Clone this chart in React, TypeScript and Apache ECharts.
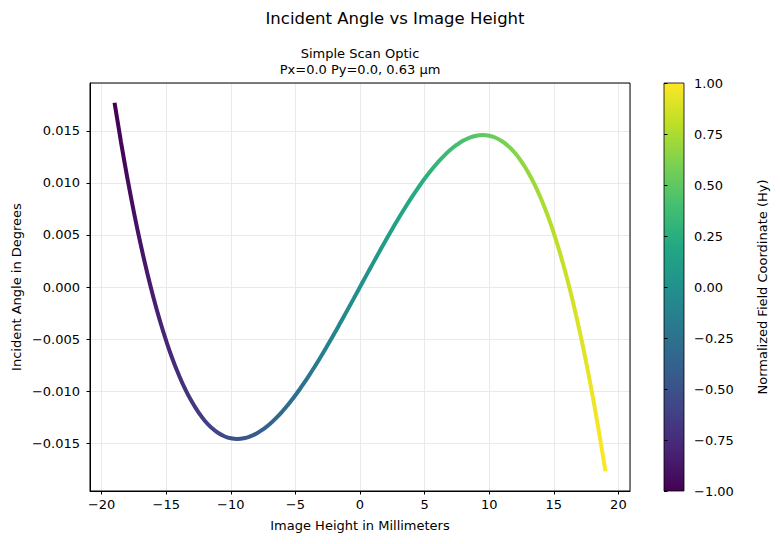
import React, { useEffect, useRef } from "react";
import * as echarts from "echarts";

// Image height samples (mm), every 0.5 mm across the field
const imageHeight: number[] = [
  -19, -18.5, -18, -17.5, -17, -16.5, -16, -15.5, -15, -14.5, -14, -13.5, -13, -12.5,
  -12, -11.5, -11, -10.5, -10, -9.5, -9, -8.5, -8, -7.5, -7, -6.5, -6, -5.5, -5, -4.5,
  -4, -3.5, -3, -2.5, -2, -1.5, -1, -0.5, 0, 0.5, 1, 1.5, 2, 2.5, 3, 3.5, 4, 4.5, 5,
  5.5, 6, 6.5, 7, 7.5, 8, 8.5, 9, 9.5, 10, 10.5, 11, 11.5, 12, 12.5, 13, 13.5, 14,
  14.5, 15, 15.5, 16, 16.5, 17, 17.5, 18, 18.5, 19,
];

// Incident angle (degrees) at each image height
const incidentAngle: number[] = [
  0.0177, 0.01392, 0.01042, 0.00718, 0.00422, 0.00151, -0.00095, -0.00318, -0.00518,
  -0.00696, -0.00852, -0.00989, -0.01106, -0.01205, -0.01287, -0.01351, -0.014, -0.01434,
  -0.01454, -0.0146, -0.01454, -0.01436, -0.01407, -0.01367, -0.01318, -0.0126, -0.01194,
  -0.0112, -0.0104, -0.00953, -0.00861, -0.00764, -0.00663, -0.00558, -0.0045, -0.00339,
  -0.00227, -0.00114, 0.0,
  0.00114, 0.00227, 0.00339, 0.0045, 0.00558, 0.00663, 0.00764, 0.00861, 0.00953, 0.0104,
  0.0112, 0.01194, 0.0126, 0.01318, 0.01367, 0.01407, 0.01436, 0.01454, 0.0146, 0.01454,
  0.01434, 0.014, 0.01351, 0.01287, 0.01205, 0.01106, 0.00989, 0.00852, 0.00696, 0.00518,
  0.00318, 0.00095, -0.00151, -0.00422, -0.00718, -0.01042, -0.01392, -0.0177,
];

// Field extent used to normalise Hy
const maxField = 19;

// Colour-bar tick values
const colorbarTicks: number[] = [-1, -0.75, -0.5, -0.25, 0, 0.25, 0.5, 0.75, 1];

// Viridis colour stops
const viridis: string[] = [
  "#440154", "#482475", "#414487", "#355f8d", "#2a788e", "#21918c",
  "#22a884", "#44bf70", "#7ad151", "#bddf26", "#fde725",
];

const FONT = "DejaVu Sans";
const fmtMinus = (s: string) => s.replace("-", "\u2212");

export default function App() {
  const ref = useRef<HTMLDivElement>(null);

  useEffect(() => {
    document.body.style.margin = "0";
    if (!ref.current) return;
    const chart = echarts.init(ref.current, undefined, { renderer: "svg" });

    const points = imageHeight.map((x, i) => [x, incidentAngle[i]]);
    const stops = viridis.map((c, i) => ({ offset: i / (viridis.length - 1), color: c }));

    chart.setOption({
      animation: false,
      backgroundColor: "#fff",
      textStyle: { fontFamily: FONT },
      grid: [
        {
          left: 90, top: 83, right: 151, bottom: 53,
          show: true, borderColor: "#000", borderWidth: 1,
          backgroundColor: "transparent", z: 3,
        },
        {
          left: 664, top: 83, right: 97, bottom: 53,
          show: true, borderColor: "#000", borderWidth: 0.8,
          backgroundColor: new echarts.graphic.LinearGradient(0, 1, 0, 0, stops),
        },
      ],
      xAxis: [
        {
          type: "value", gridIndex: 0, min: -20.9, max: 20.9, splitNumber: 8,
          axisLine: { show: true, onZero: false, lineStyle: { color: "#000", width: 1 } },
          axisTick: { show: true, length: 3.5, lineStyle: { color: "#000" } },
          axisLabel: {
            showMinLabel: false, showMaxLabel: false, color: "#000", fontSize: 13,
            fontFamily: FONT, margin: 7, formatter: (v: number) => fmtMinus(String(v)),
          },
          splitLine: { show: true, lineStyle: { color: "#e5e5e5", width: 0.8 } },
        },
        { type: "value", gridIndex: 1, show: false, min: 0, max: 1 },
      ],
      yAxis: [
        {
          type: "value", gridIndex: 0, min: -0.0196, max: 0.0196, splitNumber: 8,
          axisLine: { show: true, onZero: false, lineStyle: { color: "#000", width: 1 } },
          axisTick: { show: true, length: 3.5, lineStyle: { color: "#000" } },
          axisLabel: {
            showMinLabel: false, showMaxLabel: false, color: "#000", fontSize: 13,
            fontFamily: FONT, margin: 10,
            formatter: (v: number) => fmtMinus((Math.abs(v) < 1e-9 ? 0 : v).toFixed(3)),
          },
          splitLine: { show: true, lineStyle: { color: "#e5e5e5", width: 0.8 } },
        },
        {
          type: "value", gridIndex: 1, position: "right",
          min: colorbarTicks[0], max: colorbarTicks[colorbarTicks.length - 1], interval: 0.25,
          axisLine: { show: false },
          axisTick: { show: true, length: 3.5, lineStyle: { color: "#000" } },
          axisLabel: {
            color: "#000", fontSize: 13, fontFamily: FONT, margin: 10,
            formatter: (v: number) => fmtMinus((Math.abs(v) < 1e-9 ? 0 : v).toFixed(2)),
          },
          splitLine: { show: false },
        },
      ],
      visualMap: {
        type: "continuous", show: false, seriesIndex: 0, dimension: 0,
        min: -maxField, max: maxField, inRange: { color: viridis },
      },
      series: [
        {
          type: "line", xAxisIndex: 0, yAxisIndex: 0, data: points,
          smooth: true, showSymbol: false, symbol: "none",
          lineStyle: { width: 4, cap: "butt" }, z: 2,
        },
        { type: "scatter", xAxisIndex: 1, yAxisIndex: 1, data: [] },
      ],
      graphic: [
        {
          type: "text", x: 395, y: 18,
          style: {
            text: "Incident Angle vs Image Height", fill: "#000",
            font: `16.5px "${FONT}"`, textAlign: "center", textVerticalAlign: "middle",
          },
        },
        {
          type: "text", x: 360, y: 53,
          style: {
            text: "Simple Scan Optic", fill: "#000",
            font: `13px "${FONT}"`, textAlign: "center", textVerticalAlign: "middle",
          },
        },
        {
          type: "text", x: 360, y: 69,
          style: {
            text: "Px=0.0 Py=0.0, 0.63 \u00b5m", fill: "#000",
            font: `13px "${FONT}"`, textAlign: "center", textVerticalAlign: "middle",
          },
        },
        {
          type: "text", x: 360, y: 525,
          style: {
            text: "Image Height in Millimeters", fill: "#000",
            font: `13px "${FONT}"`, textAlign: "center", textVerticalAlign: "middle",
          },
        },
        {
          type: "text", x: 16, y: 287, rotation: Math.PI / 2,
          style: {
            text: "Incident Angle in Degrees", fill: "#000",
            font: `13px "${FONT}"`, textAlign: "center", textVerticalAlign: "middle",
          },
        },
        {
          type: "text", x: 762, y: 287, rotation: Math.PI / 2,
          style: {
            text: "Normalized Field Coordinate (Hy)", fill: "#000",
            font: `13px "${FONT}"`, textAlign: "center", textVerticalAlign: "middle",
          },
        },
      ],
    });

    return () => chart.dispose();
  }, []);

  return <div ref={ref} style={{ width: 781, height: 544 }} />;
}
